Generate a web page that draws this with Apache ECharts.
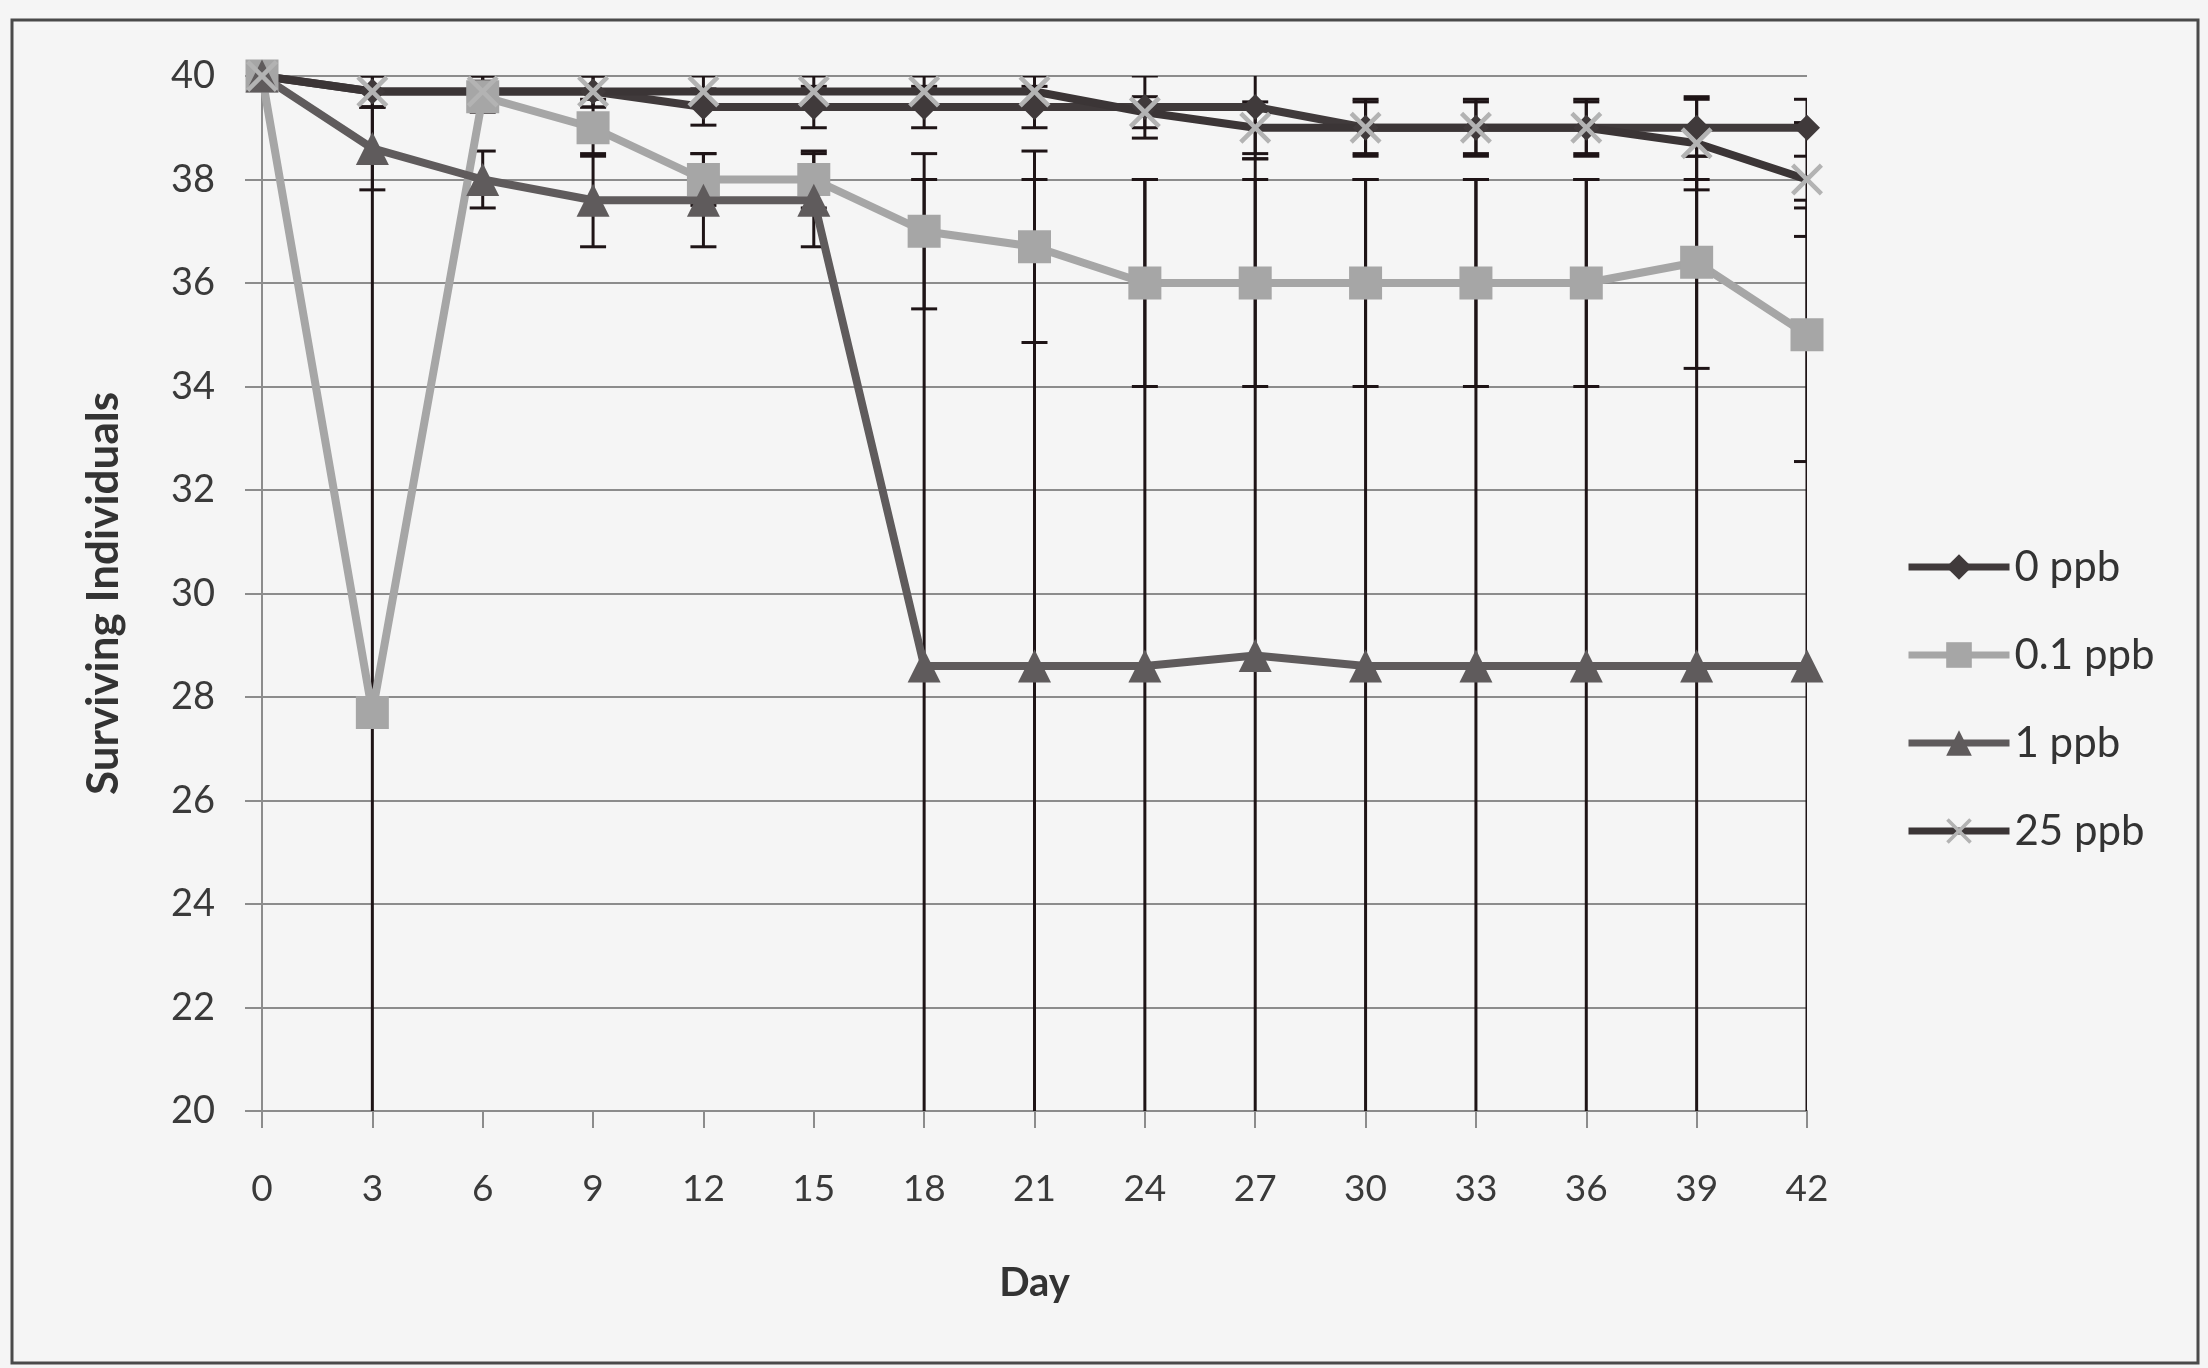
<!DOCTYPE html>
<html>
<head>
<meta charset="utf-8">
<script src="https://cdn.jsdelivr.net/npm/echarts@6/dist/echarts.min.js"></script>
<style>
html,body{margin:0;padding:0;background:#f5f5f5;}
#chart{width:2208px;height:1368px;}
</style>
</head>
<body>
<div id="chart"></div>
<script>
// ---- data ----
const days = ['0','3','6','9','12','15','18','21','24','27','30','33','36','39','42'];
const yTicks = [20,22,24,26,28,30,32,34,36,38,40];
const seriesNames = ['0 ppb','0.1 ppb','1 ppb','25 ppb'];

const ppb0   = [40, 39.7, 39.7, 39.7, 39.4, 39.4, 39.4, 39.4, 39.4, 39.4, 39.0, 39.0, 39.0, 39.0, 39.0];
const ppb01  = [40, 27.7, 39.6, 39.0, 38.0, 38.0, 37.0, 36.7, 36.0, 36.0, 36.0, 36.0, 36.0, 36.4, 35.0];
const ppb1   = [40, 38.6, 38.0, 37.6, 37.6, 37.6, 28.6, 28.6, 28.6, 28.8, 28.6, 28.6, 28.6, 28.6, 28.6];
const ppb25  = [40, 39.7, 39.7, 39.7, 39.7, 39.7, 39.7, 39.7, 39.3, 39.0, 39.0, 39.0, 39.0, 38.7, 38.0];

// error (± 1 SD)
const err0   = [0, 0.3, 0.3, 0.3, 0.35, 0.4, 0.4, 0.4, 0.6, 1.0, 0.55, 0.55, 0.55, 0.55, 0.55];
const err01  = [0, 11.7, 0.3, 0.55, 0.5, 0.55, 1.5, 1.85, 2.0, 2.0, 2.0, 2.0, 2.0, 2.05, 2.45];
const err1   = [0, 0.8, 0.55, 0.9, 0.9, 0.9, 9.4, 9.4, 9.4, 9.6, 9.4, 9.4, 9.4, 9.4, 9.0];
const err25  = [0, 0.3, 0.3, 0.3, 0.3, 0.3, 0.3, 0.3, 0.3, 0.5, 0.5, 0.5, 0.5, 0.9, 1.1];

// ---- chart ----
const FONT = 'Lato, "Open Sans", sans-serif';
const chart = echarts.init(document.getElementById('chart'));

function errData(vals, errs){
  const out = [];
  vals.forEach((v,i)=>{ if(errs[i] > 0) out.push([i, v - errs[i], v + errs[i]]); });
  return out;
}
const allErr = [].concat(errData(ppb0,err0), errData(ppb01,err01), errData(ppb1,err1), errData(ppb25,err25));

const crossPath = 'path://M0,1 L1,0 L5,4 L9,0 L10,1 L6,5 L10,9 L9,10 L5,6 L1,10 L0,9 L4,5 Z';

function lineSeries(name, data, color, symbol, size, symColor){
  return {
    name: name, type: 'line', data: data, z: 3,
    symbol: symbol, symbolSize: size, showSymbol: true,
    lineStyle: {color: color, width: 8},
    itemStyle: {color: symColor || color, borderWidth: 0},
    emphasis: {disabled: true}
  };
}

chart.setOption({
  animation: false,
  backgroundColor: '#f5f5f5',
  textStyle: {fontFamily: FONT},
  grid: {left: 262, right: 401, top: 76, bottom: 257, containLabel: false},
  legend: {
    orient: 'vertical', left: 1900, top: 541,
    itemWidth: 101, itemHeight: 32, itemGap: 46,
    lineStyle: {width: 7},
    textStyle: {fontFamily: FONT, fontSize: 42, color: '#333'},
    data: seriesNames
  },
  xAxis: {
    type: 'category', data: days, boundaryGap: false,
    name: 'Day', nameLocation: 'middle', nameGap: 152,
    nameTextStyle: {fontFamily: FONT, fontSize: 40, fontWeight: 'bold', color: '#333'},
    axisLine: {show: true, lineStyle: {color: '#8c8c8c', width: 2}},
    axisTick: {show: true, length: 17, lineStyle: {color: '#8c8c8c', width: 2}},
    axisLabel: {fontFamily: FONT, fontSize: 37, color: '#3a3a3a', margin: 60},
    splitLine: {show: false}
  },
  yAxis: {
    type: 'value', min: 20, max: 40, interval: 2,
    name: 'Surviving Individuals', nameLocation: 'middle', nameGap: 136,
    nameTextStyle: {fontFamily: FONT, fontSize: 44, fontWeight: 'bold', color: '#333'},
    axisLine: {show: true, lineStyle: {color: '#8c8c8c', width: 2}},
    axisTick: {show: true, length: 17, lineStyle: {color: '#8c8c8c', width: 2}},
    axisLabel: {fontFamily: FONT, fontSize: 38, color: '#3a3a3a', margin: 47,
      formatter: function(v){ return yTicks.indexOf(v) >= 0 ? String(v) : ''; }},
    splitLine: {show: true, lineStyle: {color: '#8c8c8c', width: 2}}
  },
  graphic: [{
    type: 'rect', silent: true, z: 100,
    shape: {x: 12, y: 20, width: 2186, height: 1343},
    style: {fill: 'none', stroke: '#4a4a4a', lineWidth: 3}
  }],
  series: [
    {
      type: 'custom', name: 'err', z: 2, clip: true,
      data: allErr,
      renderItem: function(params, api){
        const x = api.value(0);
        const lo = api.coord([x, api.value(1)]);
        const hi = api.coord([x, api.value(2)]);
        const w = 13;
        const st = {stroke: '#1e1416', lineWidth: 3};
        return {type: 'group', children: [
          {type: 'line', shape: {x1: lo[0], y1: lo[1], x2: hi[0], y2: hi[1]}, style: st},
          {type: 'line', shape: {x1: lo[0]-w, y1: lo[1], x2: lo[0]+w, y2: lo[1]}, style: st},
          {type: 'line', shape: {x1: hi[0]-w, y1: hi[1], x2: hi[0]+w, y2: hi[1]}, style: st}
        ]};
      },
      legendHoverLink: false, silent: true
    },
    lineSeries('0 ppb', ppb0, '#403a3b', 'diamond', 26),
    lineSeries('0.1 ppb', ppb01, '#a6a6a6', 'rect', 33),
    lineSeries('1 ppb', ppb1, '#5f5b5c', 'triangle', 33),
    lineSeries('25 ppb', ppb25, '#3b3536', crossPath, 32, '#b3b3b3')
  ]
});
</script>
</body>
</html>
